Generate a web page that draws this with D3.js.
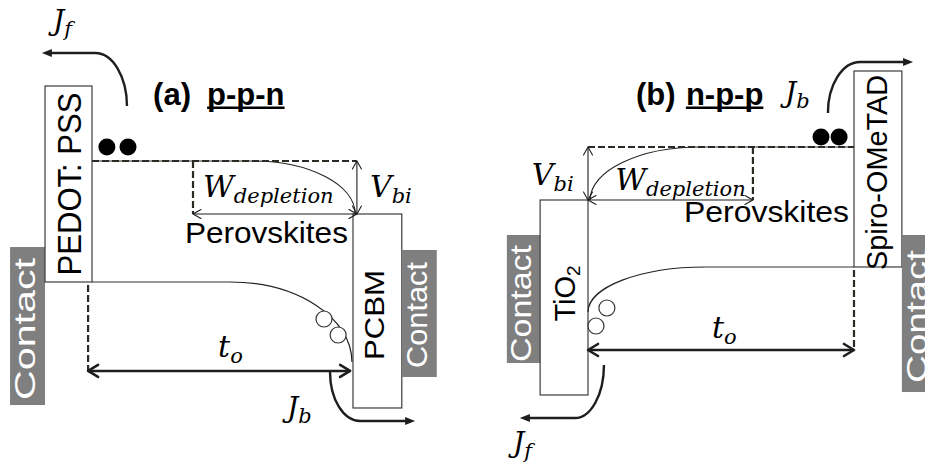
<!DOCTYPE html>
<html>
<head>
<meta charset="utf-8">
<script src="https://cdn.jsdelivr.net/npm/d3@7"></script>
<style>
  html, body { margin: 0; padding: 0; background: #fff; }
  svg { display: block; }
</style>
</head>
<body>
<svg id="chart" width="925" height="464"></svg>
<script>
// Band diagrams of a perovskite cell in two stack orders.
// u : depth through the stack, 0 and 1 are the two perovskite interfaces.
// e : energy in units of the built-in potential V_bi (0 = foot of the bending, 1 = top).

// ---------- panel (a) p-p-n ----------
const layerNamesA = ["Contact", "PEDOT: PSS", "PCBM", "Contact"];
const layerU0A = [-0.314, -0.180, 1.000, 1.187];
const layerU1A = [-0.180,  0.000, 1.187, 1.321];
const layerE0A = [-0.623,  2.415, 0.000, -0.679];
const layerE1A = [-3.604, -1.283, -3.660, -3.075];
const layerLabelUA = [-0.261, -0.088, 1.082, 1.243];
const layerLabelEA = [-2.170,  0.566, -1.906, -1.906];

const bandFlatA   = [[[0, 1], [0.617, 1]], [[0, -1.283], [0.529, -1.283]]];
const bendA       = [[[0.617, 1], [1.008, 0]], [[0.529, -1.283], [0.996, -2.792]]];
const dashedA     = [[[0, 1], [1.015, 1]], [[0.387, 1], [0.387, 0]], [[-0.015, -1.340], [-0.015, -2.962]]];
const spanArrowsA = [[[0.387, 0], [1.015, 0]], [[1.015, 0], [1.015, 1]]];
const widthArrowA = [[-0.015, -2.962], [0.989, -2.962]];
const electronsA  = [[0.057, 1.264], [0.138, 1.264]];
const holesA      = [[0.889, -1.981], [0.943, -2.283]];
const currentStartA  = [[0.134, 2.038], [0.912, -2.981]];
const currentCornerA = [[0.012, 3.038], [1.027, -3.906]];
const currentTipA    = [[-0.192, 3.038], [1.238, -3.906]];

const symbolsA    = ["J", "W", "V", "t", "J"];
const subscriptsA = ["f", "depletion", "bi", "o", "b"];
const symbolUA    = [-0.149, 0.425, 1.065, 0.483, 0.747];
const symbolEA    = [3.472, 0.321, 0.321, -2.698, -3.830];
const titleA = ["(a)", "p-p-n"];
const titleUA = [0.234, 0.441];
const titleEA = 2.057;
const absorberUA = 0.356, absorberEA = -0.547;

// ---------- panel (b) n-p-p ----------
const layerNamesB = ["Contact", "TiO", "Spiro-OMeTAD", "Contact"];
const layerU0B = [-0.305, -0.180, 1.000, 1.180];
const layerU1B = [-0.177,  0.000, 1.180, 1.342];
const layerE0B = [-0.660,  0.000, 2.434, -0.660];
const layerE1B = [-3.075, -3.679, -1.264, -3.623];
const layerLabelUB = [-0.254, -0.090, 1.083, 1.232];
const layerLabelEB = [-1.953, -1.764, 0.519, -2.198];

const bandFlatB   = [[[0.421, 1], [1, 1]], [[0.441, -1.264], [1, -1.264]]];
const bendB       = [[[0.008, 0], [0.421, 1]], [[0, -2.113], [0.441, -1.264]]];
const dashedB     = [[[0, 1], [1, 1]], [[0.620, 1], [0.620, 0]], [[1, -1.321], [1, -2.830]]];
const spanArrowsB = [[[0, 0], [0.620, 0]], [[0, 0], [0, 1]]];
const widthArrowB = [[0, -2.830], [1, -2.830]];
const electronsB  = [[0.876, 1.189], [0.944, 1.189]];
const holesB      = [[0.071, -2.038], [0.030, -2.377]];
const currentStartB  = [[0.902, 1.642], [0.060, -3.113]];
const currentCornerB = [[1.023, 2.604], [-0.049, -4.113]];
const currentTipB    = [[1.222, 2.604], [-0.256, -4.113]];

const symbolsB    = ["J", "V", "W", "t", "J"];
const subscriptsB = ["b", "bi", "depletion", "o", "f"];
const symbolUB    = [0.741, -0.211, 0.102, 0.466, -0.282];
const symbolEB    = [1.849, 0.283, 0.189, -2.604, -4.755];
const titleB = ["(b)", "n-p-p"];
const titleUB = [0.180, 0.368];
const titleEB = 1.792;
const absorberUB = 0.361, absorberEB = -0.415;

const absorberName = "Perovskites";

// ---------- typesetting ----------
const layerFontSize = { "Contact": 30, "PEDOT: PSS": 33, "PCBM": 28, "TiO": 29, "Spiro-OMeTAD": 29 };
const layerSpanA = [142, 183, 90, 106];   // rendered length of each rotated name, px
const layerSpanB = [117, 0, 195, 133];    // 0 = natural length
const absorberSpan = { a: 163, b: 165 };

const svg = d3.select("#chart");
const INK = "#1e1e1e";
const MATH = "'DejaVu Serif', serif";
const SANS = "'Liberation Sans', Arial, sans-serif";

function arrowHead(g, tip, from, len, half, filled, width) {
  const dx = tip[0] - from[0], dy = tip[1] - from[1];
  const d = Math.hypot(dx, dy) || 1;
  const ux = dx / d, uy = dy / d, nx = -uy, ny = ux;
  const bx = tip[0] - ux * len, by = tip[1] - uy * len;
  const p1 = [bx + nx * half, by + ny * half], p2 = [bx - nx * half, by - ny * half];
  if (filled) {
    g.append("path").attr("d", `M${tip[0]},${tip[1]}L${p1[0]},${p1[1]}L${p2[0]},${p2[1]}Z`)
      .attr("fill", INK);
  } else {
    g.append("path").attr("d", `M${p1[0]},${p1[1]}L${tip[0]},${tip[1]}L${p2[0]},${p2[1]}`)
      .attr("fill", "none").attr("stroke", INK).attr("stroke-width", width)
      .attr("stroke-linecap", "round").attr("stroke-linejoin", "round");
  }
}

// quarter-ellipse between two points; horizontalFirst = tangent horizontal at the start
function quarter(p, a, b, horizontalFirst) {
  const k = 0.5523;
  p.moveTo(a[0], a[1]);
  if (horizontalFirst) {
    p.bezierCurveTo(a[0] + k * (b[0] - a[0]), a[1], b[0], b[1] - k * (b[1] - a[1]), b[0], b[1]);
  } else {
    p.bezierCurveTo(a[0], a[1] + k * (b[1] - a[1]), b[0] - k * (b[0] - a[0]), b[1], b[0], b[1]);
  }
  return p;
}

function drawPanel(c) {
  const x = c.x, y = c.y;
  const P = q => [x(q[0]), y(q[1])];
  const g = svg.append("g");

  // layers
  c.layerNames.forEach((name, i) => {
    const x0 = x(c.layerU0[i]), x1 = x(c.layerU1[i]);
    const y0 = y(c.layerE0[i]), y1 = y(c.layerE1[i]);
    const contact = name === "Contact";
    g.append("rect")
      .attr("x", Math.min(x0, x1)).attr("y", Math.min(y0, y1))
      .attr("width", Math.abs(x1 - x0)).attr("height", Math.abs(y1 - y0))
      .attr("fill", contact ? "#7f7f7f" : "#fff")
      .attr("stroke", contact ? "none" : "#3c3c3c")
      .attr("stroke-width", 1.2);
  });

  // flat band edges
  c.bandFlat.forEach(s => {
    const a = P(s[0]), b = P(s[1]);
    g.append("line").attr("x1", a[0]).attr("y1", a[1]).attr("x2", b[0]).attr("y2", b[1])
      .attr("stroke", "#333").attr("stroke-width", 1.2);
  });

  // band bending
  c.bend.forEach(s => {
    const a = P(s[0]), b = P(s[1]);
    g.append("path").attr("d", quarter(d3.path(), a, b, c.bendHorizontalFirst).toString())
      .attr("fill", "none").attr("stroke", "#222").attr("stroke-width", 1.2);
  });

  // dashed guides
  c.dashed.forEach(s => {
    const a = P(s[0]), b = P(s[1]);
    g.append("line").attr("x1", a[0]).attr("y1", a[1]).attr("x2", b[0]).attr("y2", b[1])
      .attr("stroke", "#2b2b24").attr("stroke-width", 2.2).attr("stroke-dasharray", "7,3");
  });

  // V_bi and W_depletion spans
  c.spanArrows.forEach(s => {
    const a = P(s[0]), b = P(s[1]);
    g.append("line").attr("x1", a[0]).attr("y1", a[1]).attr("x2", b[0]).attr("y2", b[1])
      .attr("stroke", INK).attr("stroke-width", 1.1);
    arrowHead(g, a, b, 8, 4.5, false, 1.1);
    arrowHead(g, b, a, 8, 4.5, false, 1.1);
  });

  // t_o span
  {
    const a = P(c.widthArrow[0]), b = P(c.widthArrow[1]);
    g.append("line").attr("x1", a[0]).attr("y1", a[1]).attr("x2", b[0]).attr("y2", b[1])
      .attr("stroke", INK).attr("stroke-width", 2.6);
    arrowHead(g, a, b, 10, 6, false, 2.6);
    arrowHead(g, b, a, 10, 6, false, 2.6);
  }

  // carriers
  c.electrons.forEach(q => {
    const p = P(q);
    g.append("circle").attr("cx", p[0]).attr("cy", p[1]).attr("r", 8.5).attr("fill", "#000");
  });
  c.holes.forEach(q => {
    const p = P(q);
    g.append("circle").attr("cx", p[0]).attr("cy", p[1]).attr("r", 8)
      .attr("fill", "#fff").attr("stroke", "#333").attr("stroke-width", 1.2);
  });

  // extracted currents
  c.currentStart.forEach((s, i) => {
    const a = P(s), m = P(c.currentCorner[i]), t = P(c.currentTip[i]);
    const p = quarter(d3.path(), a, m, false);
    p.lineTo(t[0] + Math.sign(m[0] - t[0]) * 7, t[1]);
    g.append("path").attr("d", p.toString())
      .attr("fill", "none").attr("stroke", INK).attr("stroke-width", 2.4);
    arrowHead(g, t, m, 10, 4, true);
  });

  // math symbols
  c.symbols.forEach((s, i) => {
    const big = s === "J" ? 28 : 30;
    const t = g.append("text")
      .attr("x", x(c.symbolU[i])).attr("y", y(c.symbolE[i]))
      .attr("font-family", MATH).attr("font-style", "italic")
      .attr("font-size", big).attr("fill", "#000");
    t.append("tspan").text(s);
    t.append("tspan").attr("font-size", 21).attr("dy", 6).text(c.subscripts[i]);
  });

  // titles
  const ty = y(c.titleE);
  g.append("text").attr("x", x(c.titleU[0])).attr("y", ty)
    .attr("font-family", SANS).attr("font-weight", "bold").attr("font-size", 31)
    .attr("fill", "#000").text(c.title[0]);
  const kind = g.append("text").attr("x", x(c.titleU[1])).attr("y", ty)
    .attr("font-family", SANS).attr("font-weight", "bold").attr("font-size", 31)
    .attr("fill", "#000").text(c.title[1]);
  const kb = kind.node().getBBox();
  g.append("line").attr("x1", kb.x).attr("x2", kb.x + kb.width)
    .attr("y1", ty + 2.8).attr("y2", ty + 2.8)
    .attr("stroke", "#000").attr("stroke-width", 2.4);

  // absorber name
  g.append("text").attr("x", x(c.absorberU)).attr("y", y(c.absorberE))
    .attr("font-family", SANS).attr("font-size", 29).attr("fill", "#000")
    .attr("textLength", c.absorberSpan).attr("lengthAdjust", "spacingAndGlyphs")
    .text(absorberName);

  // layer names, written bottom to top
  c.layerNames.forEach((name, i) => {
    const cx = x(c.layerLabelU[i]), cy = y(c.layerLabelE[i]);
    const contact = name === "Contact";
    const t = g.append("text")
      .attr("transform", `translate(${cx},${cy}) rotate(-90)`)
      .attr("text-anchor", "middle").attr("dy", "0.36em")
      .attr("font-family", SANS).attr("font-size", layerFontSize[name])
      .attr("fill", contact ? "#fff" : "#000");
    if (c.layerSpan[i] > 0) {
      t.attr("textLength", c.layerSpan[i]).attr("lengthAdjust", "spacingAndGlyphs");
    }
    t.append("tspan").text(name);
    if (name === "TiO") t.append("tspan").attr("font-size", 19).attr("dy", 5).text("2");
  });
}

const panelA = {
  x: d3.scaleLinear().domain([0, 1]).range([92, 353]),
  y: d3.scaleLinear().domain([0, 1]).range([214, 161]),
  layerNames: layerNamesA, layerU0: layerU0A, layerU1: layerU1A,
  layerE0: layerE0A, layerE1: layerE1A,
  layerLabelU: layerLabelUA, layerLabelE: layerLabelEA, layerSpan: layerSpanA,
  bandFlat: bandFlatA, bend: bendA, bendHorizontalFirst: true,
  dashed: dashedA, spanArrows: spanArrowsA, widthArrow: widthArrowA,
  electrons: electronsA, holes: holesA,
  currentStart: currentStartA, currentCorner: currentCornerA, currentTip: currentTipA,
  symbols: symbolsA, subscripts: subscriptsA, symbolU: symbolUA, symbolE: symbolEA,
  title: titleA, titleU: titleUA, titleE: titleEA,
  absorberU: absorberUA, absorberE: absorberEA, absorberSpan: absorberSpan.a
};

const panelB = {
  x: d3.scaleLinear().domain([0, 1]).range([588, 854]),
  y: d3.scaleLinear().domain([0, 1]).range([200, 147]),
  layerNames: layerNamesB, layerU0: layerU0B, layerU1: layerU1B,
  layerE0: layerE0B, layerE1: layerE1B,
  layerLabelU: layerLabelUB, layerLabelE: layerLabelEB, layerSpan: layerSpanB,
  bandFlat: bandFlatB, bend: bendB, bendHorizontalFirst: false,
  dashed: dashedB, spanArrows: spanArrowsB, widthArrow: widthArrowB,
  electrons: electronsB, holes: holesB,
  currentStart: currentStartB, currentCorner: currentCornerB, currentTip: currentTipB,
  symbols: symbolsB, subscripts: subscriptsB, symbolU: symbolUB, symbolE: symbolEB,
  title: titleB, titleU: titleUB, titleE: titleEB,
  absorberU: absorberUB, absorberE: absorberEB, absorberSpan: absorberSpan.b
};

drawPanel(panelA);
drawPanel(panelB);
</script>
</body>
</html>
